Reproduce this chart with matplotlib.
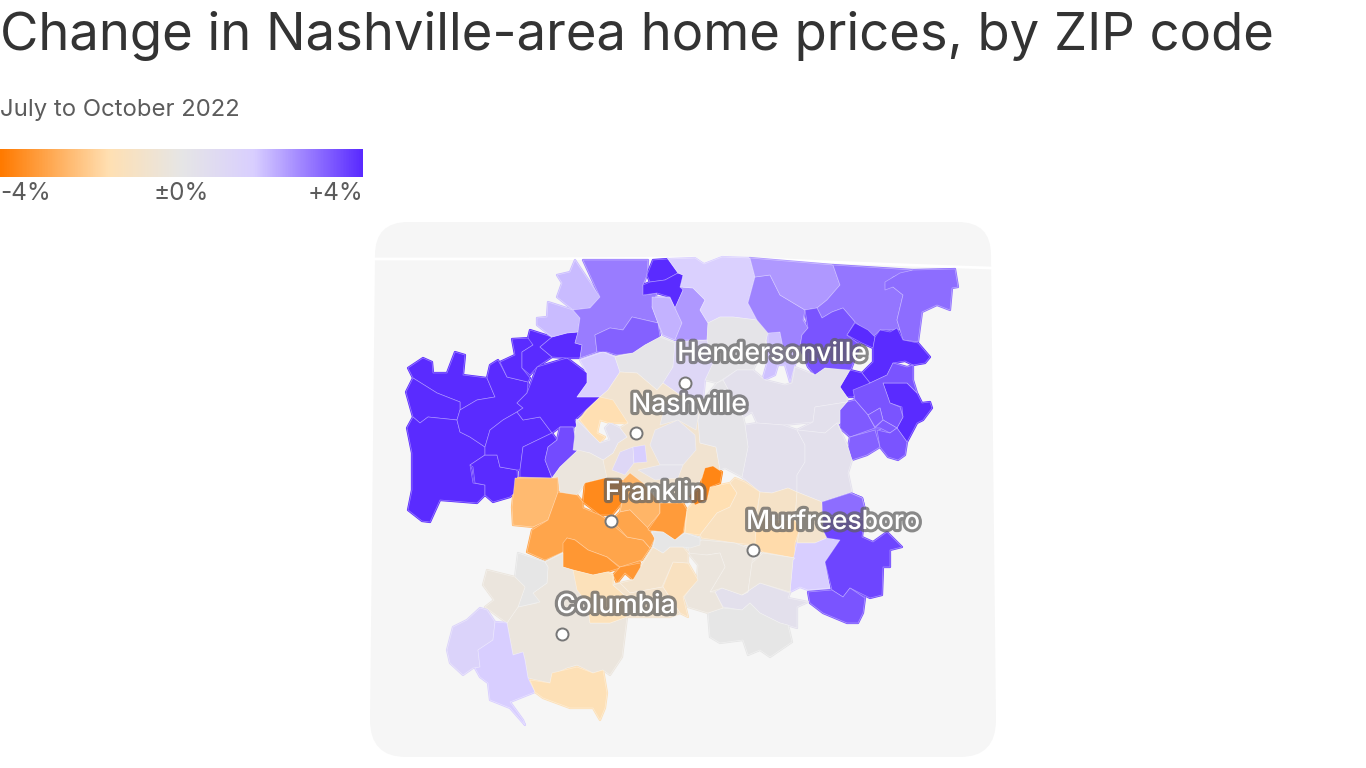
import numpy as np
import matplotlib
matplotlib.use("Agg")
import matplotlib.pyplot as plt
import matplotlib.patheffects as pe
from matplotlib.colors import LinearSegmentedColormap
from matplotlib.patches import Polygon, PathPatch
from matplotlib.path import Path

plt.rcParams['font.family'] = ['Inter', 'DejaVu Sans']

# --- Text ---
title = "Change in Nashville-area home prices, by ZIP code"
subtitle = "July to October 2022"
legend_labels = ["-4%", "±0%", "+4%"]
legend_values = [-4, 0, 4]

# --- Cities ---
city_names = ["Hendersonville", "Nashville", "Franklin", "Murfreesboro", "Columbia"]
city_x = [685, 636, 611, 753, 562]
city_y = [383, 433, 521, 550, 634]
label_x = [772, 689, 655, 833, 616]
label_y = [354, 405, 493, 522, 606]

# --- Kentucky state line across the top of the map ---
border_x = [375, 520, 695, 704, 722, 830, 960, 991]
border_y = [259, 259, 258, 264, 257, 262, 267, 268]

# --- ZIP shapes (screen px), drawn in this order ---
zip_shapes = [
    # west block
    [(408,368),(423,358),(432,362),(433,373),(447,373),(455,352),(465,355),(463,375),(487,378),(495,397),(477,400),(460,410),(460,402),(437,393),(413,378)],
    [(413,378),(437,393),(460,402),(460,410),(457,420),(428,417),(420,423),(413,417),(406,392)],
    [(413,417),(420,423),(428,417),(457,420),(460,432),(470,437),(485,447),(485,455),(470,465),(473,483),(485,485),(485,495),(477,503),(440,500),(430,522),(422,521),(408,510),(412,490),(412,453),(407,428)],
    [(490,365),(498,360),(507,377),(528,382),(527,393),(517,403),(523,408),(517,412),(503,420),(490,430),(485,447),(470,437),(460,432),(457,420),(460,410),(477,400),(495,397),(487,378)],
    [(485,455),(497,455),(500,467),(517,470),(518,490),(510,497),(493,502),(485,495),(485,485),(475,483),(473,467),(470,465)],
    [(485,447),(490,430),(503,420),(517,412),(523,420),(540,417),(552,433),(523,447),(520,470),(517,470),(500,467),(497,455),(485,455)],
    [(517,403),(527,393),(537,367),(567,358),(587,373),(587,383),(577,397),(600,397),(575,420),(577,427),(560,427),(552,433),(540,417),(523,420),(517,412),(523,408)],
    [(523,447),(552,433),(557,440),(548,447),(545,460),(552,478),(520,477),(520,470)],
    [(560,427),(573,427),(578,450),(560,467),(552,478),(545,460),(548,447),(557,440)],
    [(500,362),(515,355),(512,339),(530,338),(533,345),(522,352),(522,368),(530,378),(528,382),(507,377)],
    [(530,330),(552,337),(540,347),(552,357),(537,367),(530,375),(522,368),(522,352),(533,345),(528,338)],
    [(552,337),(567,333),(578,332),(575,343),(582,345),(580,358),(567,358),(552,357),(540,347)],
    # north-west
    [(575,260),(583,272),(600,297),(590,308),(573,310),(557,297),(562,283),(557,275),(570,272)],
    [(548,302),(573,310),(580,318),(578,332),(567,333),(552,337),(537,325),(537,318),(547,317)],
    [(583,260),(648,260),(647,275),(643,285),(645,295),(657,293),(652,307),(658,323),(632,317),(623,330),(610,328),(595,335),(597,352),(580,358),(582,345),(575,343),(578,332),(580,318),(573,310),(590,308),(600,297)],
    [(595,335),(610,328),(623,330),(632,317),(658,323),(660,337),(645,345),(633,353),(617,355),(607,352),(597,352)],
    [(653,260),(668,259),(678,273),(665,280),(650,282),(647,275)],
    [(650,282),(665,280),(678,273),(683,275),(683,290),(675,308),(670,297),(657,293),(643,295),(643,285)],
    [(652,297),(670,298),(675,308),(682,323),(675,340),(663,335),(658,323),(652,307)],
    [(680,287),(693,288),(705,300),(700,310),(708,323),(707,340),(675,340),(682,323),(675,308),(683,290)],
    [(668,259),(695,258),(704,264),(722,257),(750,258),(755,277),(748,303),(757,320),(733,317),(720,317),(708,323),(700,310),(705,300),(693,288),(680,287),(683,275),(678,273)],
    # north of Nashville
    [(580,360),(603,352),(615,357),(620,372),(608,390),(600,397),(577,397),(587,383),(587,373)],
    [(615,357),(633,353),(645,345),(660,337),(675,343),(673,367),(663,383),(657,390),(637,373),(620,372)],
    [(708,323),(720,317),(733,317),(757,320),(768,333),(763,350),(753,370),(737,370),(717,383),(705,380),(713,363),(707,340)],
    [(675,343),(707,340),(713,363),(705,380),(703,400),(680,395),(663,383),(673,367)],
    [(768,333),(780,332),(783,347),(800,347),(795,365),(790,382),(785,365),(778,365),(775,375),(762,381),(768,360)],
    [(755,277),(770,275),(780,295),(805,310),(803,320),(808,328),(802,335),(800,347),(783,347),(780,332),(768,333),(757,320),(748,303)],
    [(750,258),(833,265),(840,285),(827,300),(817,308),(805,310),(780,295),(770,275),(755,277)],
    [(833,265),(913,270),(893,277),(885,285),(893,287),(903,295),(897,320),(900,330),(880,330),(873,337),(855,322),(843,308),(832,312),(822,318),(817,308),(827,300),(840,285)],
    [(913,270),(955,269),(958,287),(952,288),(950,310),(937,305),(922,312),(918,342),(903,340),(900,330),(897,320),(903,295),(893,287),(885,290),(885,282),(900,273)],
    # north-east
    [(805,310),(817,308),(822,318),(832,312),(843,308),(855,322),(847,335),(860,345),(850,372),(825,368),(815,375),(808,367),(800,347),(802,335),(808,328)],
    [(855,323),(868,330),(875,337),(873,348),(862,343),(847,335)],
    [(880,330),(890,332),(897,328),(903,340),(918,343),(930,357),(925,363),(913,365),(905,361),(893,363),(887,375),(870,383),(862,373),(873,362),(873,348),(875,337)],
    [(862,373),(870,383),(853,397),(847,397),(840,387),(850,370)],
    [(907,383),(917,393),(922,403),(930,402),(932,408),(923,420),(917,423),(907,442),(897,428),(903,417),(902,407),(890,403),(883,383)],
    [(853,390),(870,383),(887,375),(893,363),(907,367),(913,365),(913,380),(917,393),(907,383),(883,383),(890,403),(900,407),(903,417),(897,428),(883,420),(880,408),(868,415),(855,400)],
    [(847,402),(855,400),(868,415),(875,428),(850,437),(840,428),(840,410)],
    [(868,415),(880,408),(883,420),(875,427)],
    [(875,428),(883,420),(897,428),(890,433),(880,428)],
    [(850,437),(875,430),(880,447),(867,455),(852,460),(848,447)],
    [(877,430),(890,433),(897,428),(907,442),(905,455),(898,460),(888,457),(880,447)],
    # east, Wilson county side
    [(737,370),(753,370),(765,380),(785,385),(792,383),(795,367),(815,375),(825,368),(850,370),(840,387),(847,397),(847,402),(815,407),(813,422),(783,425),(757,423),(752,412),(743,417),(723,380)],
    [(815,407),(847,402),(840,410),(840,423),(837,423),(825,433),(797,430),(813,422)],
    [(745,425),(757,423),(783,425),(797,430),(805,445),(805,462),(797,475),(797,492),(788,488),(772,493),(760,492),(742,477),(748,447)],
    [(797,430),(825,433),(837,423),(848,447),(852,460),(848,473),(852,492),(822,502),(797,492),(797,475),(805,462),(805,445)],
    # Nashville core
    [(620,372),(637,373),(657,390),(663,383),(680,395),(703,400),(698,420),(700,443),(716,447),(720,470),(702,478),(690,495),(683,503),(660,503),(643,483),(630,473),(623,480),(605,478),(603,460),(613,453),(618,443),(627,437),(620,428),(628,423),(600,397),(608,390)],
    [(703,400),(717,383),(723,380),(743,417),(745,425),(748,447),(742,477),(725,468),(720,470),(716,447),(700,443),(698,420)],
    [(600,397),(613,400),(628,423),(610,423),(600,420),(597,433),(605,437),(600,443),(590,433),(580,420),(587,410)],
    [(577,420),(590,433),(600,443),(610,440),(605,428),(610,423),(620,428),(627,437),(618,443),(613,453),(603,460),(590,453),(573,450),(575,433)],
    [(665,405),(690,395),(700,405),(696,430),(678,420),(660,425)],
    [(655,430),(678,420),(695,435),(696,450),(683,465),(660,465),(650,445)],
    [(620,452),(633,447),(634,463),(625,475),(612,470)],
    [(633,447),(645,445),(647,462),(634,463)],
    [(638,470),(660,465),(683,465),(678,478),(655,480)],
    [(558,477),(552,478),(560,467),(578,450),(590,453),(603,460),(607,478),(585,483),(577,495),(560,493)],
    # Franklin, orange band
    [(515,478),(558,478),(558,493),(548,520),(533,527),(513,525),(512,507)],
    [(558,492),(577,495),(583,502),(583,508),(600,515),(607,520),(627,537),(643,540),(650,548),(642,560),(620,567),(607,557),(588,550),(575,540),(567,538),(563,552),(545,560),(527,552),(532,530),(548,520)],
    [(585,483),(605,478),(623,480),(622,503),(612,515),(600,515),(583,502)],
    [(623,480),(630,473),(643,483),(660,503),(660,513),(647,528),(630,510),(620,512),(622,503)],
    [(620,512),(630,510),(647,527),(655,538),(650,548),(643,540),(627,537),(612,520)],
    [(660,503),(683,503),(687,510),(683,533),(675,540),(663,532),(648,530),(660,513)],
    [(567,538),(575,540),(588,550),(607,557),(620,568),(607,572),(593,575),(573,570),(563,567),(563,543)],
    [(620,567),(640,563),(642,572),(633,580),(625,573),(617,583),(613,575)],
    [(693,503),(707,500),(710,487),(730,483),(737,493),(730,507),(717,513),(700,535),(685,533),(687,510)],
    [(702,478),(705,468),(713,466),(722,472),(720,483),(710,487),(707,500),(695,505),(690,495),(700,488)],
    # south-east of Franklin
    [(730,483),(735,478),(745,482),(760,492),(757,510),(755,545),(735,543),(702,538),(700,535),(717,513),(730,507),(737,493)],
    [(760,492),(772,493),(788,488),(797,492),(795,520),(770,520),(757,515)],
    [(757,515),(770,520),(795,520),(800,528),(795,543),(795,558),(763,552),(755,545)],
    [(797,492),(822,502),(823,530),(827,538),(815,543),(797,543),(800,528),(795,520)],
    [(797,543),(815,543),(827,538),(840,540),(825,562),(830,588),(808,590),(800,587),(790,592),(793,560)],
    [(827,538),(823,530),(822,502),(850,493),(862,498),(865,510),(862,537),(873,542),(887,532),(902,547),(890,550),(890,567),(883,567),(882,595),(870,598),(850,588),(843,597),(832,590),(825,562),(840,540)],
    [(822,502),(850,493),(862,498),(865,510),(863,520),(823,516)],
    [(808,592),(832,590),(843,597),(850,588),(865,598),(863,613),(858,623),(847,623),(823,613),(810,603)],
    # south
    [(715,592),(722,588),(742,595),(760,583),(790,593),(788,598),(808,602),(797,607),(797,628),(780,623),(760,613),(750,603),(742,610),(723,607)],
    [(708,613),(723,608),(742,610),(750,603),(760,613),(780,623),(788,625),(792,642),(770,657),(760,650),(748,655),(743,640),(720,643),(710,637)],
    [(702,540),(735,543),(753,550),(752,563),(748,592),(742,595),(722,588),(710,592),(725,567),(720,553),(707,555),(690,555),(688,548)],
    [(752,563),(763,553),(795,558),(793,560),(790,592),(760,583),(742,595),(748,592)],
    [(688,553),(707,555),(720,553),(725,567),(710,592),(715,592),(723,608),(708,613),(688,607),(684,597),(697,580),(698,565)],
    [(673,562),(688,563),(698,580),(683,597),(688,617),(680,613),(663,587)],
    [(653,547),(663,553),(670,547),(683,547),(688,553),(688,563),(673,562),(662,587),(630,593),(620,583),(633,580),(643,563)],
    [(652,532),(663,532),(675,540),(685,533),(700,538),(700,545),(690,548),(683,547),(670,547),(663,553),(653,547),(655,540)],
    # Columbia and the south-west
    [(545,562),(563,553),(563,567),(573,570),(580,588),(587,603),(590,623),(610,623),(627,617),(622,657),(610,675),(603,670),(593,673),(577,665),(567,668),(552,675),(550,683),(528,678),(525,660),(523,652),(513,655),(507,623),(518,607),(537,603),(533,593),(547,583),(548,567)],
    [(518,553),(545,562),(548,567),(547,583),(533,593),(540,602),(518,607),(525,587),(515,577)],
    [(487,570),(515,577),(525,587),(518,607),(507,623),(485,607),(494,600),(483,585)],
    [(480,608),(487,610),(495,622),(493,640),(478,650),(480,667),(473,668),(463,675),(450,663),(447,650),(453,627),(467,620)],
    [(495,622),(507,623),(513,655),(523,652),(525,660),(528,678),(535,692),(510,702),(523,720),(525,725),(510,708),(490,700),(488,683),(480,677),(475,668),(480,667),(478,650),(493,640)],
    [(530,680),(550,683),(552,673),(577,667),(593,673),(603,670),(607,693),(605,708),(600,720),(593,708),(570,708),(543,698),(535,692)],
    [(573,570),(593,575),(607,572),(613,575),(613,585),(630,600),(627,617),(610,623),(590,623),(587,603),(577,590)],
    [(613,585),(620,583),(630,593),(663,587),(680,613),(670,617),(627,617),(630,600)],
]

# price change in percent for each shape above, same order
zip_change = [
    4, 4, 4, 4, 4, 4, 4, 4, 3.5, 4, 4, 4,
    1.9, 1.9, 2.8, 3.2, 4, 4, 2.0, 2.4, 1.5,
    1.5, 0.1, 0.1, 1.0, 1.8, 2.7, 2.4, 2.9, 3.0,
    3.4, 4, 4, 4, 4, 3.4, 3.3, 3.3, 3.3, 3.2, 3.4,
    0.4, 0.4, 0.4, 0.4,
    -0.7, 0.1, -1.6, 0.4, 0.1, 0.3, 1.0, 1.6, 0.3, -0.3,
    -2.5, -3.0, -3.6, -2.6, -3.0, -3.2, -3.3, -3.3, -1.6, -3.7,
    -1.2, -1.0, -1.7, -0.8, 1.6, 3.6, 3.0, 3.4,
    0.4, 0.0, -0.3, -0.3, -0.3, -1.2, -0.8, 0.0,
    -0.3, 0.0, -0.3, 1.3, 1.6, -1.5, -1.4, -0.8,
]

cmap = LinearSegmentedColormap.from_list("change", [
    (0.0, "#ff7a00"), (0.3, "#ffe0b3"), (0.5, "#e6e6e6"), (0.7, "#d9cfff"), (1.0, "#5a2bff")])

fig = plt.figure(figsize=(13.66, 7.68), dpi=100)
ax = fig.add_axes([0, 0, 1, 1])
ax.set_xlim(0, 1366)
ax.set_ylim(768, 0)
ax.axis("off")

# panel behind the map
panel_verts = [(375, 255), (375, 222), (408, 222), (958, 222), (991, 222), (991, 255),
               (996, 720), (996, 757), (960, 757), (406, 757), (370, 757), (370, 720), (375, 255)]
panel_codes = [Path.MOVETO, Path.CURVE3, Path.CURVE3, Path.LINETO, Path.CURVE3, Path.CURVE3,
               Path.LINETO, Path.CURVE3, Path.CURVE3, Path.LINETO, Path.CURVE3, Path.CURVE3, Path.CLOSEPOLY]
ax.add_patch(PathPatch(Path(panel_verts, panel_codes), fc="#f6f6f6", ec="none", zorder=1))
ax.plot(border_x, border_y, color="white", lw=2, zorder=2)

# first pass with an own-colour edge closes the slivers between neighbours
for shape, change in zip(zip_shapes, zip_change):
    ax.add_patch(Polygon(shape, closed=True, fc=cmap((change + 4) / 8), ec=cmap((change + 4) / 8),
                         lw=1.6, joinstyle="round", zorder=3))
for shape, change in zip(zip_shapes, zip_change):
    ax.add_patch(Polygon(shape, closed=True, fc=cmap((change + 4) / 8), ec=(1, 1, 1, 0.4),
                         lw=0.5, joinstyle="round", zorder=4))

# city labels and dots
stroke = [pe.withStroke(linewidth=4.5, foreground="#5f5f5f", alpha=0.72)]
for name, lx, ly in zip(city_names, label_x, label_y):
    ax.text(lx, ly, name, color="white", fontsize=19, ha="center", va="center",
            fontweight="medium", path_effects=stroke, zorder=5)
ax.scatter(city_x, city_y, s=75, color="white", edgecolor="#777777", lw=1.4, zorder=6)

# title block
ax.text(0, 36, title, fontsize=37.9, color="#333333", va="center", ha="left")
ax.text(0, 110, subtitle, fontsize=17.2, color="#5c5c5c", va="center", ha="left")

# legend bar
ax.imshow(np.linspace(0, 1, 400).reshape(1, -1), cmap=cmap, extent=(0, 363, 177, 149), aspect="auto", zorder=2)
ax.set_xlim(0, 1366)
ax.set_ylim(768, 0)
for lab, val, ha in zip(legend_labels, legend_values, ["left", "center", "right"]):
    ax.text((val + 4) / 8 * 363, 194, lab, fontsize=17.5, color="#5c5c5c", ha=ha, va="center")

fig.savefig("out.png", dpi=100)
